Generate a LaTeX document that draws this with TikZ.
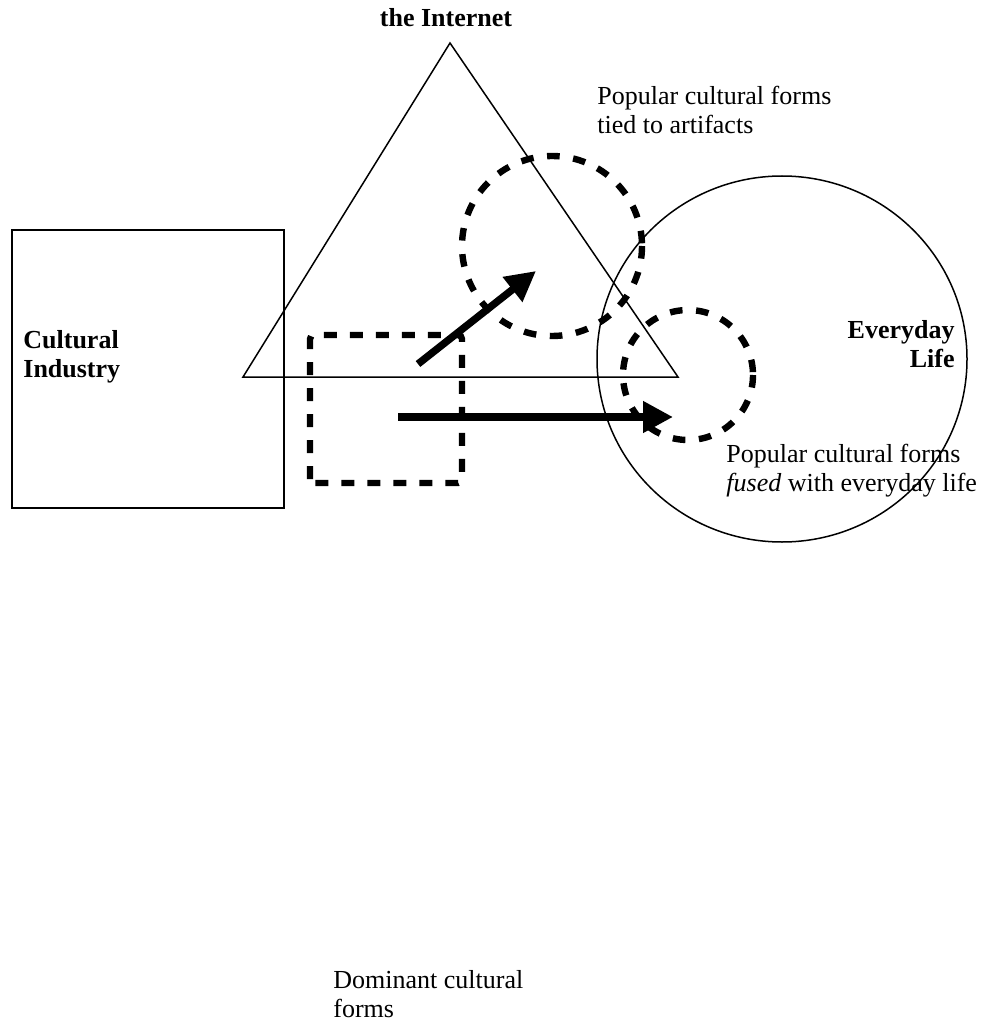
\documentclass[tikz,border=0pt]{standalone}
\usepackage{fontspec}
\setmainfont{Liberation Serif}
\usetikzlibrary{arrows.meta}
\begin{document}
\begin{tikzpicture}[x=0.5pt,y=-0.5pt,
  thinline/.style={draw=black,line width=0.75pt},
  dashcircle/.style={draw=black,line width=3.2pt,dash pattern=on 6.3pt off 6.8pt},
  dashrect/.style={draw=black,line width=3.2pt,dash pattern=on 6.5pt off 6.5pt,rounded corners=2pt},
  bigarrow/.style={draw=black,line width=3.7pt,-{Triangle[length=15pt,width=15pt]}},
  lbl/.style={inner sep=0pt,font=\fontsize{13}{14.5}\selectfont},
  blbl/.style={inner sep=0pt,font=\fontsize{13}{14.5}\selectfont\bfseries}]
\useasboundingbox (0,0) rectangle (984,1021);
% square
\draw[thinline] (12,230) rectangle (284,508);
% triangle
\draw[thinline] (450,43) -- (678,377) -- (243,377) -- cycle;
% everyday life ellipse
\draw[thinline] (782,359) ellipse [x radius=185, y radius=183];
% dashed shapes
\draw[dashcircle] (552,246) circle [radius=90];
\draw[dashcircle] (688,375) circle [radius=65];
\draw[dashrect] (310,483) -- (310,335) -- (462,335) -- (462,483) -- cycle;
% arrows
\coordinate (a1s) at (418,364);
\coordinate (a1e) at (536,271);
\coordinate (a2s) at (398,417);
\coordinate (a2e) at (673,417);
\draw[bigarrow] (a1s) -- (a1e);
\draw[bigarrow] (a2s) -- (a2e);
% labels (base anchor = baseline of last line)
\node[blbl,anchor=base] (inet) at (446,27) {the Internet};
\node[blbl,anchor=base west,align=left] (ci) at (23,377) {Cultural\\Industry};
\node[blbl,anchor=base east,align=right] (el) at (955,367) {Everyday\\Life};
\node[lbl,anchor=base west,align=left] (pa) at (597,134) {Popular cultural forms\\tied to artifacts};
\node[lbl,anchor=base west,align=left] (pf) at (726,491) {Popular cultural forms\\\textit{fused} with everyday life};
\node[lbl,anchor=base west,align=left] (dc) at (333,1017) {Dominant cultural\\forms};
\end{tikzpicture}
\end{document}
